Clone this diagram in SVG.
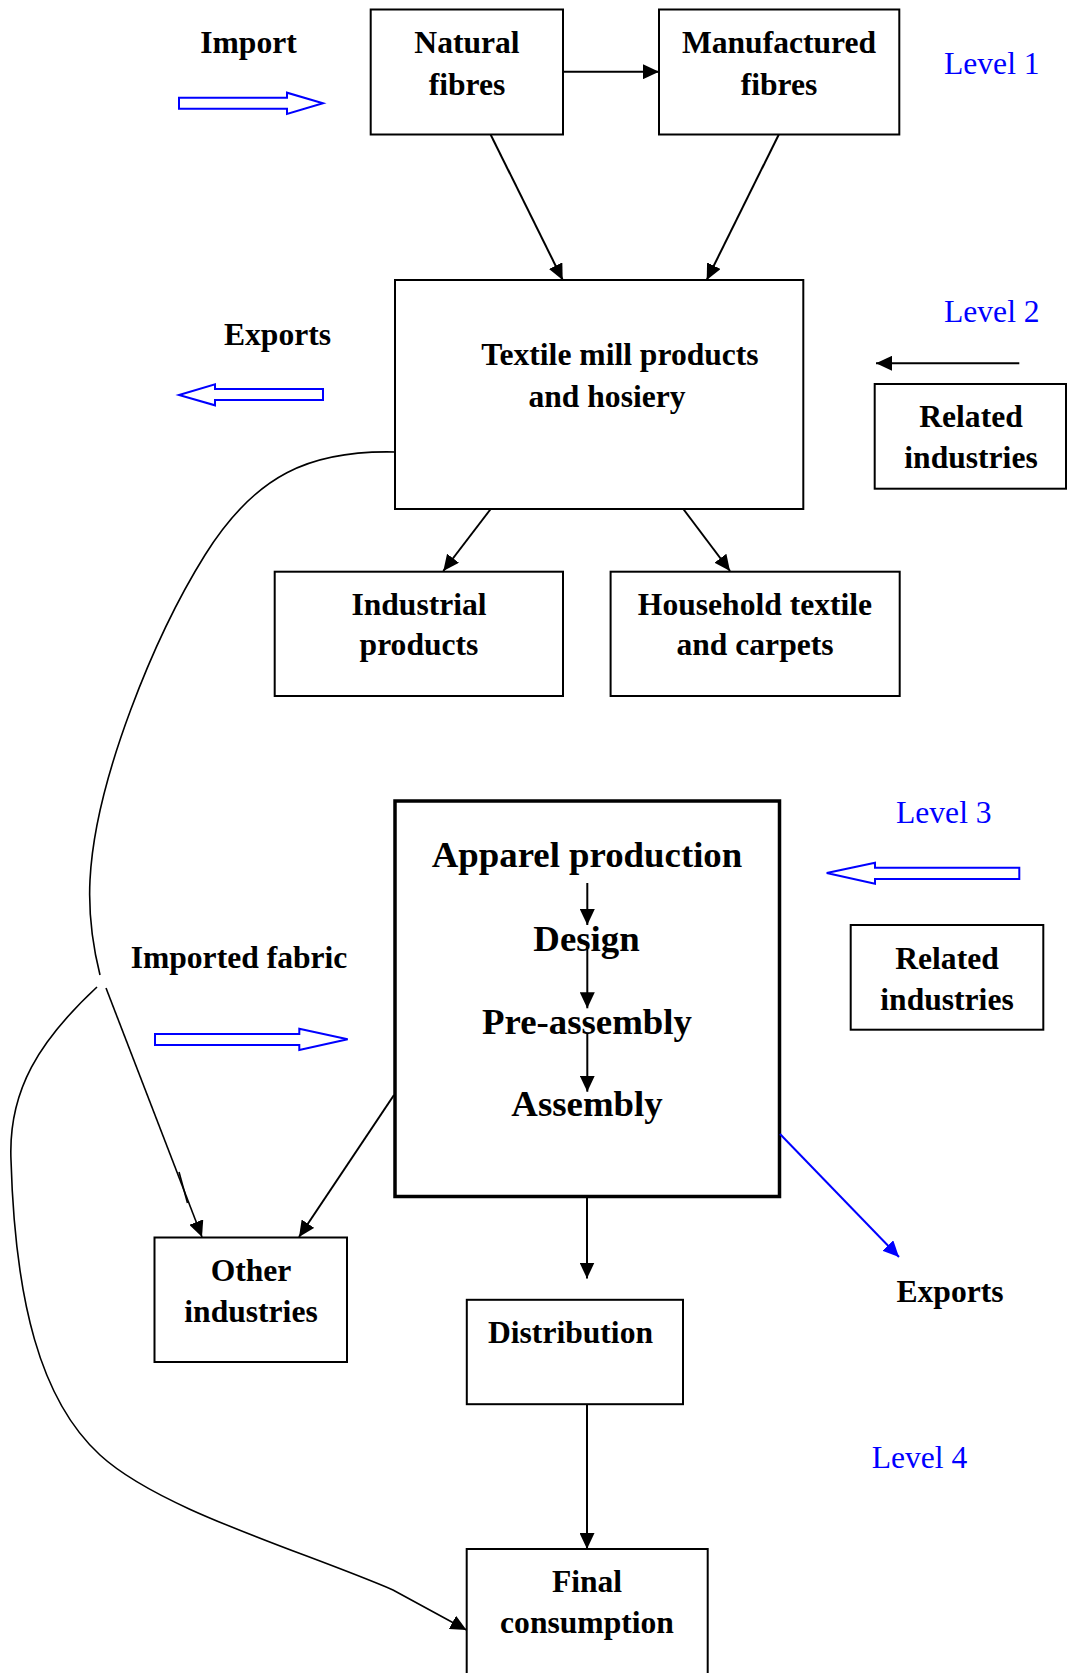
<svg xmlns="http://www.w3.org/2000/svg" width="1067" height="1673" viewBox="0 0 1067 1673">
<style>
.box{fill:#fff;stroke:#000;stroke-width:2}
.thick{fill:#fff;stroke:#000;stroke-width:3.5}
.t{font-family:"Liberation Serif","Times New Roman",serif;font-weight:bold;font-size:31.6px;fill:#000;text-anchor:middle}
.big{font-size:36.8px}
.lvl{font-family:"Liberation Serif","Times New Roman",serif;font-size:31.6px;fill:#0000ff}
.c{fill:none;stroke:#000;stroke-width:2}
.cv{fill:none;stroke:#000;stroke-width:1.6}
.cb{fill:none;stroke:#0000ff;stroke-width:2}
.hollow{fill:#fff;stroke:#0000ff;stroke-width:2}
</style>
<defs>
<marker id="ah" markerUnits="userSpaceOnUse" markerWidth="16" markerHeight="15" refX="16" refY="7.5" orient="auto"><path d="M0,0 L16,7.5 L0,15 z" fill="#000"/></marker>
<marker id="ahb" markerUnits="userSpaceOnUse" markerWidth="16" markerHeight="15" refX="16" refY="7.5" orient="auto"><path d="M0,0 L16,7.5 L0,15 z" fill="#0000ff"/></marker>
</defs>
<rect width="1067" height="1673" fill="#fff"/>

<g id="labels">
<text class="t" x="248.5" y="52.7">Import</text>
<text class="t" x="277.5" y="345">Exports</text>
<text class="t" x="239" y="968.3">Imported fabric</text>
<text class="t" x="950" y="1302">Exports</text>
<text class="lvl" x="944" y="74">Level 1</text>
<text class="lvl" x="944" y="321.7">Level 2</text>
<text class="lvl" x="896" y="822.8">Level 3</text>
<text class="lvl" x="871.7" y="1468.3">Level 4</text>
</g>

<g id="flows">
<polygon class="hollow" points="179,97.7 287,97.7 287,92.7 323,103.3 287,114 287,108.7 179,108.7"/>
<polygon class="hollow" points="323,389 215,389 215,384.3 179,395 215,405.3 215,400 323,400"/>
<polygon class="hollow" points="155,1034 299.3,1034 299.3,1028.7 347.7,1039.3 299.3,1050 299.3,1045 155,1045"/>
<polygon class="hollow" points="1019.3,867.7 875,867.7 875,862.8 826.7,873 875,883.8 875,879 1019.3,879"/>
</g>

<g id="natural">
<rect class="box" x="370.7" y="9.5" width="192.3" height="125"/>
<text class="t" x="467" y="52.7">Natural</text>
<text class="t" x="467" y="95">fibres</text>
</g>
<g id="manufactured">
<rect class="box" x="659" y="9.5" width="240.3" height="125"/>
<text class="t" x="779" y="52.7">Manufactured</text>
<text class="t" x="779" y="95">fibres</text>
</g>
<g id="textile">
<rect class="box" x="395" y="280" width="408.3" height="229"/>
<text class="t" x="620" y="365">Textile mill products</text>
<text class="t" x="607" y="406.7">and hosiery</text>
</g>
<g id="related2">
<rect class="box" x="874.7" y="384" width="191.3" height="104.7"/>
<text class="t" x="971" y="427.3">Related</text>
<text class="t" x="971" y="468.3">industries</text>
</g>
<g id="industrial">
<rect class="box" x="274.7" y="571.7" width="288.3" height="124.3"/>
<text class="t" x="419" y="615">Industrial</text>
<text class="t" x="419" y="655">products</text>
</g>
<g id="household">
<rect class="box" x="610.6" y="571.7" width="289.1" height="124.3"/>
<text class="t" x="755" y="615">Household textile</text>
<text class="t" x="755" y="655">and carpets</text>
</g>
<g id="apparel">
<rect class="thick" x="395" y="801" width="384.5" height="395.5"/>
<text class="t big" x="587" y="867.3">Apparel production</text>
<text class="t big" x="586.5" y="950.7">Design</text>
<text class="t big" x="587" y="1034">Pre-assembly</text>
<text class="t big" x="587" y="1116">Assembly</text>
</g>
<g id="related3">
<rect class="box" x="850.7" y="925" width="192.6" height="104.7"/>
<text class="t" x="947" y="969.4">Related</text>
<text class="t" x="947" y="1009.7">industries</text>
</g>
<g id="other">
<rect class="box" x="154.5" y="1237.5" width="192.5" height="124.5"/>
<text class="t" x="251" y="1280.8">Other</text>
<text class="t" x="251" y="1321.8">industries</text>
</g>
<g id="distribution">
<rect class="box" x="466.8" y="1299.8" width="216.2" height="104.4"/>
<text class="t" x="570.5" y="1342.5">Distribution</text>
</g>
<g id="final">
<rect class="box" x="466.7" y="1549" width="241" height="140"/>
<text class="t" x="587" y="1592.3">Final</text>
<text class="t" x="587" y="1633.3">consumption</text>
</g>

<g id="connectors">
<line class="c" x1="563" y1="71.7" x2="659" y2="71.7" marker-end="url(#ah)"/>
<line class="c" x1="490.7" y1="134.7" x2="562.7" y2="280" marker-end="url(#ah)"/>
<line class="c" x1="778.7" y1="134.7" x2="706.7" y2="280" marker-end="url(#ah)"/>
<line class="c" x1="1019.3" y1="363.3" x2="876" y2="363.3" marker-end="url(#ah)"/>
<line class="c" x1="490.7" y1="509" x2="443.3" y2="571" marker-end="url(#ah)"/>
<line class="c" x1="683.3" y1="509" x2="730" y2="571" marker-end="url(#ah)"/>
<path class="cv" d="M395,452 C310,450 255,475 205,555 S95,780 90,880 C88,920 95,955 100,975"/>
<path class="cv" d="M106,988 L202,1237" marker-end="url(#ah)"/>
<line class="cv" x1="179" y1="1172" x2="187.5" y2="1203"/>
<path class="cv" d="M97,987 C40,1040 8,1090 11,1160 C15,1300 40,1400 100,1455 C160,1510 300,1550 393,1590 L466.5,1630" marker-end="url(#ah)"/>
<line class="c" x1="394" y1="1095" x2="299" y2="1237" marker-end="url(#ah)"/>
<line class="c" x1="587" y1="1197" x2="587" y2="1278.5" marker-end="url(#ah)"/>
<line class="c" x1="587" y1="1404" x2="587" y2="1549" marker-end="url(#ah)"/>
<line class="cb" x1="780" y1="1134" x2="899" y2="1257" marker-end="url(#ahb)"/>
<line class="c" x1="587.3" y1="883" x2="587.3" y2="925" marker-end="url(#ah)"/>
<line class="c" x1="587.3" y1="947" x2="587.3" y2="1008.3" marker-end="url(#ah)"/>
<line class="c" x1="587.3" y1="1033" x2="587.3" y2="1091.7" marker-end="url(#ah)"/>
</g>
</svg>
